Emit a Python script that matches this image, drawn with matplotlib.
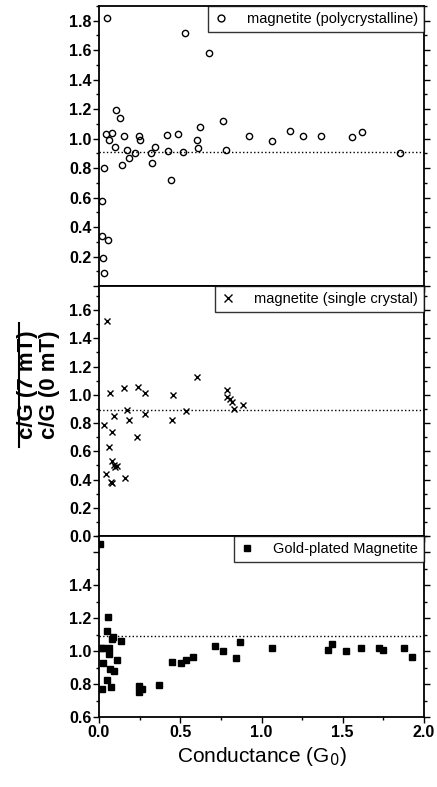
import matplotlib.pyplot as plt
from matplotlib.ticker import MultipleLocator, FuncFormatter
from matplotlib.lines import Line2D

plt.rcParams['font.family'] = ['Liberation Sans', 'DejaVu Sans']

# magnetite (polycrystalline)
poly_g = [0.051, 0.531, 0.679, 0.103, 0.127, 0.763, 0.623, 0.043, 0.078, 0.063,
          0.156, 0.244, 0.250, 0.417, 0.486, 0.603, 0.100, 0.172, 0.345, 0.423,
          0.517, 0.607, 0.780, 0.222, 0.318, 0.183, 0.140, 0.324, 0.033, 0.443,
          0.925, 1.067, 1.177, 1.255, 1.366, 1.559, 1.618, 1.852, 0.018, 0.016,
          0.055, 0.023, 0.029]
poly_r = [1.816, 1.715, 1.582, 1.193, 1.141, 1.121, 1.076, 1.031, 1.040, 0.988,
          1.015, 1.015, 0.988, 1.022, 1.031, 0.993, 0.943, 0.925, 0.943, 0.916,
          0.909, 0.934, 0.925, 0.902, 0.902, 0.871, 0.819, 0.833, 0.801, 0.718,
          1.015, 0.986, 1.055, 1.015, 1.015, 1.013, 1.042, 0.905, 0.574, 0.338,
          0.313, 0.189, 0.088]
poly_mean = 0.911

# magnetite (single crystal)
single_g = [0.051, 0.601, 0.152, 0.240, 0.285, 0.070, 0.455, 0.786, 0.790, 0.806,
            0.818, 0.833, 0.884, 0.174, 0.533, 0.283, 0.090, 0.183, 0.451, 0.029,
            0.082, 0.232, 0.062, 0.078, 0.094, 0.111, 0.100, 0.043, 0.162, 0.073,
            0.082]
single_r = [1.521, 1.124, 1.049, 1.053, 1.013, 1.011, 1.001, 1.032, 0.985, 0.971,
            0.952, 0.898, 0.929, 0.893, 0.882, 0.865, 0.849, 0.818, 0.818, 0.783,
            0.738, 0.701, 0.633, 0.529, 0.501, 0.496, 0.490, 0.442, 0.412, 0.379,
            0.374]
single_mean = 0.891

# gold-plated magnetite
gold_g = [0.004, 0.055, 0.047, 0.088, 0.078, 0.137, 0.012, 0.027, 0.060, 0.060,
          0.027, 0.111, 0.068, 0.092, 0.051, 0.072, 0.016, 0.244, 0.244, 0.265,
          0.367, 0.449, 0.503, 0.535, 0.576, 0.714, 0.761, 0.841, 0.866, 1.065,
          1.411, 1.434, 1.520, 1.614, 1.725, 1.750, 1.877, 1.928]
gold_r = [1.652, 1.207, 1.124, 1.088, 1.072, 1.063, 1.021, 1.021, 1.017, 0.983,
          0.930, 0.947, 0.892, 0.878, 0.827, 0.783, 0.769, 0.789, 0.749, 0.771,
          0.797, 0.933, 0.930, 0.948, 0.967, 1.033, 1.003, 0.957, 1.057, 1.021,
          1.009, 1.041, 0.999, 1.017, 1.017, 1.005, 1.021, 0.967]
gold_mean = 1.093

W, H = 437, 787
fig = plt.figure(figsize=(W / 100, H / 100), dpi=100)

left, right = 99 / W, 424 / W


def make_axes(top_px, bot_px):
    return fig.add_axes([left, 1 - bot_px / H, right - left, (bot_px - top_px) / H])


def hide_labels(hidden):
    def fmt(v, pos):
        if any(abs(v - h) < 1e-6 for h in hidden):
            return ''
        return f'{v:.1f}'
    return FuncFormatter(fmt)


def style(ax, ylim, hidden, xlabels):
    ax.set_xlim(0, 2.0)
    ax.set_ylim(*ylim)
    ax.xaxis.set_major_locator(MultipleLocator(0.5))
    ax.xaxis.set_minor_locator(MultipleLocator(0.25))
    ax.yaxis.set_major_locator(MultipleLocator(0.2))
    ax.yaxis.set_minor_locator(MultipleLocator(0.1))
    ax.yaxis.set_major_formatter(hide_labels(hidden))
    ax.xaxis.set_major_formatter(FuncFormatter(lambda v, p: f'{v:.1f}'))
    ax.tick_params(axis='both', which='both', direction='out', width=1.0,
                   labelsize=11.5, pad=1.5)
    ax.tick_params(which='major', length=4)
    ax.tick_params(which='minor', length=2.5)
    ax.tick_params(axis='y', which='both', right=True)
    ax.tick_params(axis='x', labelbottom=xlabels)
    for lab in ax.get_xticklabels() + ax.get_yticklabels():
        lab.set_fontweight('bold')
    for s in ax.spines.values():
        s.set_linewidth(1.3)


def add_legend(ax):
    leg = ax.legend(loc='upper right', frameon=True, fancybox=False,
                    borderaxespad=0, fontsize=10.5, handlelength=1.0,
                    handletextpad=1.3, borderpad=0.4, markerscale=1.1)
    leg.get_frame().set_edgecolor('black')
    leg.get_frame().set_linewidth(1.0)


# top panel
ax1 = make_axes(6, 286)
ax1.plot(poly_g, poly_r, 'o', ls='none', mfc='none', mec='black', mew=1.0, ms=4.5,
         label='magnetite (polycrystalline)')
ax1.axhline(poly_mean, color='black', ls=':', lw=1.0)
style(ax1, (0, 1.9), [0.0], False)
add_legend(ax1)

# middle panel
ax2 = make_axes(286, 536)
ax2.plot(single_g, single_r, 'x', ls='none', color='black', mew=1.0, ms=5,
         label='magnetite (single crystal)')
ax2.axhline(single_mean, color='black', ls=':', lw=1.0)
style(ax2, (0, 1.77), [], False)
add_legend(ax2)

# bottom panel
ax3 = make_axes(536, 717)
ax3.plot(gold_g, gold_r, 's', ls='none', color='black', ms=4.2,
         label='Gold-plated Magnetite')
ax3.axhline(gold_mean, color='black', ls=':', lw=1.0)
style(ax3, (0.6, 1.7), [1.6], True)
add_legend(ax3)
ax3.set_xlabel('Conductance (G$_0$)', fontsize=15, labelpad=4)

# stacked ratio label on the left
fig.text(27 / W, 1 - 385 / H, 'c/G (7 mT)', rotation=90, ha='center', va='center',
         fontsize=16, fontweight='bold')
fig.text(49 / W, 1 - 385 / H, 'c/G (0 mT)', rotation=90, ha='center', va='center',
         fontsize=16, fontweight='bold')
fig.add_artist(Line2D([19 / W, 19 / W], [1 - 323 / H, 1 - 447 / H],
                      transform=fig.transFigure, color='black', lw=1.5))

fig.savefig('out.png', dpi=100)
